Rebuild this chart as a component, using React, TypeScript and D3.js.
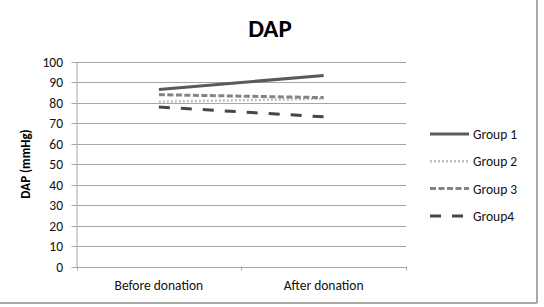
import React from "react";
import * as d3 from "d3";

const categories = ["Before donation", "After donation"];
const seriesNames = ["Group 1", "Group 2", "Group 3", "Group4"];
const group1 = [86.6, 93.4];
const group2 = [80.6, 82.0];
const group3 = [84.0, 82.6];
const group4 = [78.0, 73.2];
const yTicks = [0, 10, 20, 30, 40, 50, 60, 70, 80, 90, 100];

const seriesValues = [group1, group2, group3, group4];
const styles = [
  { color: "#5a5a5a", dash: "none", width: 3 },
  { color: "#c0c0c0", dash: "2,2", width: 2.5 },
  { color: "#848484", dash: "6,2.5", width: 3 },
  { color: "#474747", dash: "11,11", width: 3 },
];

export default function App() {
  const W = 544, H = 307;
  const left = 76.5, right = 406, top = 62, bottom = 266.5;
  const x = d3.scaleBand().domain(categories).range([left, right]);
  const y = d3.scaleLinear().domain([0, 100]).range([bottom, top]);
  const line = d3
    .line<number>()
    .x((_, i) => (x(categories[i]) as number) + x.bandwidth() / 2)
    .y((d) => y(d));
  const font = "Carlito, Calibri, Lato, 'Liberation Sans', sans-serif";
  return (
    <svg width={W} height={H} style={{ position: "absolute", left: 0, top: 0 }}>
      <rect x={0} y={0} width={W} height={H} fill="#fff" />
      <line x1={-2} x2={537} y1={303} y2={303} stroke="#a8a8a8" strokeWidth={2} />
      <line x1={537} x2={537} y1={-2} y2={303} stroke="#a8a8a8" strokeWidth={2} />
      <text x={270} y={37} textAnchor="middle" fontFamily={font} fontWeight="bold" fontSize={25} fill="#000">
        DAP
      </text>
      {yTicks.map((t) => (
        <g key={t}>
          <line x1={left} x2={right} y1={Math.round(y(t)) + 0.5} y2={Math.round(y(t)) + 0.5} stroke="#a6a6a6" strokeWidth={1} />
          <line x1={left - 5} x2={left} y1={Math.round(y(t)) + 0.5} y2={Math.round(y(t)) + 0.5} stroke="#a6a6a6" strokeWidth={1} />
          <text x={63} y={y(t) + 5} textAnchor="end" fontFamily={font} fontSize={13.5} fill="#111">
            {t}
          </text>
        </g>
      ))}
      <line x1={left + 0.5} x2={left + 0.5} y1={top} y2={bottom + 1} stroke="#a6a6a6" strokeWidth={1} />
      {[0, 1, 2].map((i) => {
        const xx = Math.round(left + i * x.bandwidth()) + 0.5;
        return <line key={i} x1={xx} x2={xx} y1={bottom} y2={bottom + 4} stroke="#a6a6a6" strokeWidth={1} />;
      })}
      {categories.map((c) => (
        <text key={c} x={(x(c) as number) + x.bandwidth() / 2} y={290} textAnchor="middle" fontFamily={font} fontSize={13.5} fill="#111">
          {c}
        </text>
      ))}
      <text
        transform={`translate(30,164) rotate(-90)`}
        textAnchor="middle"
        fontFamily={font}
        fontWeight="bold"
        fontSize={13}
        fill="#000"
      >
        DAP (mmHg)
      </text>
      {seriesValues.map((vals, i) => (
        <path
          key={i}
          d={line(vals) as string}
          fill="none"
          stroke={styles[i].color}
          strokeWidth={styles[i].width}
          strokeDasharray={styles[i].dash}
        />
      ))}
      {seriesNames.map((n, i) => {
        const ly = 134 + i * 27.3;
        return (
          <g key={n}>
            <line x1={430} x2={469} y1={ly} y2={ly} stroke={styles[i].color} strokeWidth={styles[i].width} strokeDasharray={styles[i].dash} />
            <text x={473} y={ly + 5} fontFamily={font} fontSize={13.5} fill="#111">
              {n}
            </text>
          </g>
        );
      })}
    </svg>
  );
}
